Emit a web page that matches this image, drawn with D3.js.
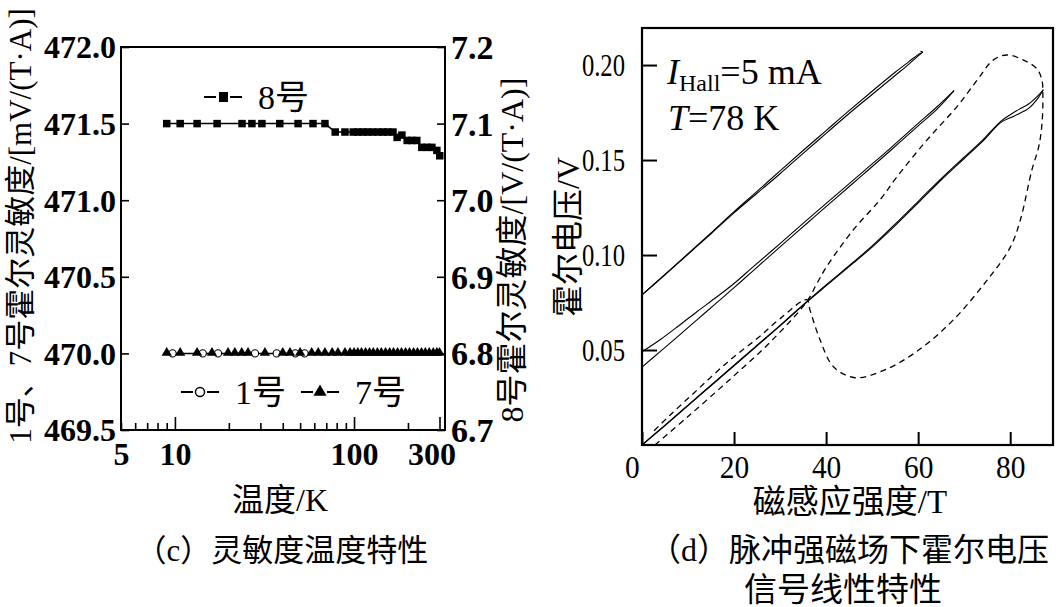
<!DOCTYPE html>
<html>
<head>
<meta charset="utf-8">
<script src="https://cdn.jsdelivr.net/npm/d3@7"></script>
<style>
  body { margin: 0; background: #fff; }
  svg { display: block; }
</style>
</head>
<body>
<script>
// ---- data (c): sensitivity vs temperature ----
let tempMajor = [5, 10, 100, 300];
let tempMinor = [6, 7, 8, 9, 20, 30, 40, 50, 60, 70, 80, 90, 200];
let leftTicks = [469.5, 470.0, 470.5, 471.0, 471.5, 472.0];
let rightTicks = [6.7, 6.8, 6.9, 7.0, 7.1, 7.2];

// 8号 (right axis, V/(T·A))
let s8T = [9.0, 10.7, 13.3, 17.2, 23.7, 26.9, 30.6, 38.5, 48.7, 59, 68.8, 78.5, 89, 99, 105, 112, 119, 127, 136, 145, 154, 165, 174, 185, 198, 210, 224, 239, 255, 272, 290, 301];
let s8V = [7.10, 7.10, 7.10, 7.10, 7.10, 7.10, 7.10, 7.10, 7.10, 7.10, 7.10, 7.089, 7.089, 7.089, 7.089, 7.089, 7.089, 7.089, 7.089, 7.089, 7.089, 7.089, 7.082, 7.085, 7.078, 7.078, 7.078, 7.069, 7.069, 7.069, 7.065, 7.058];

// 7号 (left axis, mV/(T·A))
let s7T = [9.0, 10.7, 13.3, 16.1, 19.8, 21.6, 23.6, 25.6, 31.8, 40, 43.9, 50, 58, 63.1, 68.8, 75.5, 81.3, 89, 95, 100, 105, 110, 116, 122, 128, 135, 142, 150, 158, 166, 175, 184, 194, 204, 215, 226, 238, 250, 263, 277, 290, 300];
let s7V = [470.0, 470.0, 470.0, 470.0, 470.0, 470.0, 470.0, 470.0, 470.0, 470.0, 470.0, 470.0, 470.0, 470.0, 470.0, 470.0, 470.0, 470.0, 470.0, 470.0, 470.0, 470.0, 470.0, 470.0, 470.0, 470.0, 470.0, 470.0, 470.0, 470.0, 470.0, 470.0, 470.0, 470.0, 470.0, 470.0, 470.0, 470.0, 470.0, 470.0, 470.0, 470.0];

// 1号 (left axis)
let s1T = [9.7, 14.3, 17.4, 28, 37, 47, 53];
let s1V = [470.0, 470.0, 470.0, 470.0, 470.0, 470.0, 470.0];

// ---- data (d): Hall voltage vs field, [B (T), U (V)] ----
let xTicksD = [0, 20, 40, 60, 80];
let yTicksD = [0.05, 0.10, 0.15, 0.20];

let curve1a = [[0, 0.079], [5, 0.0898], [10, 0.1007], [15, 0.1117], [20, 0.1228], [25, 0.1335], [30, 0.1443], [35, 0.155], [40, 0.1655], [45, 0.176], [50, 0.1862], [55, 0.1962], [58, 0.2018], [60, 0.2055], [61, 0.2068], [60.5, 0.2072]];
let curve1b = [[0, 0.079], [5, 0.0896], [10, 0.1004], [15, 0.1112], [20, 0.1222], [25, 0.1325], [30, 0.1428], [35, 0.1535], [40, 0.164], [45, 0.1745], [50, 0.1845], [55, 0.1945], [58, 0.2005], [60, 0.2048], [61, 0.2068]];

let curve2a = [[0, 0.049], [4, 0.0555], [8, 0.0628], [12, 0.0703], [16, 0.0775], [20, 0.085], [24, 0.0935], [30, 0.106], [36, 0.1188], [42, 0.1313], [48, 0.1438], [54, 0.1563], [60, 0.1693], [64, 0.1778], [67.8, 0.1865]];
let curve2b = [[0, 0.041], [4, 0.0493], [8, 0.0576], [12, 0.066], [16, 0.0744], [20, 0.0828], [24, 0.0914], [30, 0.1043], [36, 0.117], [42, 0.1297], [48, 0.1423], [54, 0.155], [60, 0.168], [64, 0.1765], [67.8, 0.1865]];

let curve3a = [[0, 0.0], [5, 0.0105], [10, 0.021], [15, 0.0315], [20, 0.042], [25, 0.0525], [30, 0.063], [35.8, 0.0755], [40, 0.0843], [45.9, 0.0962], [50, 0.1048], [55, 0.1163], [60.4, 0.1292], [65, 0.1402], [70, 0.1515], [74, 0.1605], [78, 0.1705], [80, 0.1738], [82, 0.1768], [84, 0.1795], [86, 0.1838], [87.2, 0.187]];
let curve3b = [[0, 0.0], [5, 0.0102], [10, 0.0207], [15, 0.0312], [20, 0.0417], [25, 0.0522], [30, 0.0627], [35.8, 0.0752], [40, 0.0838], [45.9, 0.0957], [50, 0.1042], [55, 0.1155], [60.4, 0.1284], [65, 0.1395], [70, 0.1508], [74, 0.1598], [78, 0.1698], [80, 0.1722], [82, 0.1745], [84, 0.1772], [86, 0.1825], [87.2, 0.187]];

let dashedLoop = [[2.8, 0.0], [10, 0.015], [19.1, 0.0345], [28, 0.0545], [35.8, 0.0755], [38, 0.085], [40.1, 0.0938], [45.9, 0.1132], [51.7, 0.129], [55.4, 0.1412], [61.9, 0.1605], [68.4, 0.178], [72.8, 0.192], [76.3, 0.2026], [79.3, 0.2053], [82.9, 0.2026], [85.8, 0.198], [86.9, 0.192], [87.1, 0.1833], [86.9, 0.169], [86.2, 0.157], [84.7, 0.1447], [82.2, 0.1184], [80, 0.104], [74.9, 0.0865], [67.7, 0.066], [60.4, 0.0505], [53.2, 0.0400], [46.3, 0.0354], [41.6, 0.0412], [38.7, 0.0553], [36.5, 0.071], [35.8, 0.0765], [30, 0.0665], [25, 0.056], [19, 0.0445], [12, 0.029], [6, 0.0155], [2, 0.006]];

const serif = "'Liberation Serif', 'Times New Roman', serif";
const mixed = "'Liberation Serif', 'Noto Sans CJK SC', serif";

let svg = d3.select("body").append("svg")
  .attr("width", 1061)
  .attr("height", 607)
  .style("background", "#fff");

// ================= panel (c) =================
let x1 = d3.scaleLog().domain([5, 322]).range([121, 445]);
let y1 = d3.scaleLinear().domain([469.5, 472.0]).range([430, 47]);
let y1r = d3.scaleLinear().domain([6.7, 7.2]).range([430, 47]);

let pc = svg.append("g");

let axL = pc.append("g").attr("transform", "translate(121,0)")
  .call(d3.axisLeft(y1).tickValues(leftTicks).tickSize(-8).tickPadding(5).tickFormat(d3.format(".1f")));
let axR = pc.append("g").attr("transform", "translate(445,0)")
  .call(d3.axisRight(y1r).tickValues(rightTicks).tickSize(-8).tickPadding(6).tickFormat(d3.format(".1f")));
let axB = pc.append("g").attr("transform", "translate(0,430)")
  .call(d3.axisBottom(x1).tickValues(tempMajor.concat(tempMinor)).tickSize(-7).tickPadding(12)
    .tickFormat(d => tempMajor.includes(d) ? d : ""));
axB.selectAll(".tick line").attr("y2", d => (d == 10 || d == 100 || d == 300) ? -13 : -7);

[axL, axR, axB].forEach(g => {
  g.select(".domain").remove();
  g.selectAll(".tick line").attr("stroke", "#000").attr("stroke-width", 1.6);
  g.selectAll("text").attr("font-family", serif).attr("font-size", 32).attr("font-weight", "bold").attr("fill", "#000");
});
axL.selectAll("text").attr("dy", "0.34em");
axR.selectAll("text").attr("dy", "0.34em").attr("font-size", 34);
axB.selectAll(".tick").filter(d => d == 300).select("text").attr("dx", -8);

pc.append("rect").attr("x", 121).attr("y", 47).attr("width", 324).attr("height", 383)
  .attr("fill", "none").attr("stroke", "#000").attr("stroke-width", 2);

// 8号 squares
let line8 = d3.line().x((d, i) => x1(s8T[i])).y(d => y1r(d));
pc.append("path").attr("d", line8(s8V)).attr("fill", "none").attr("stroke", "#000").attr("stroke-width", 1.5);
pc.selectAll(".sq").data(s8V).join("rect")
  .attr("x", (d, i) => x1(s8T[i]) - 3.75).attr("y", d => y1r(d) - 3.75)
  .attr("width", 7.5).attr("height", 7.5).attr("fill", "#000");

// 7号 triangles and 1号 circles
let line7 = d3.line().x((d, i) => x1(s7T[i])).y(d => y1(d));
pc.append("path").attr("d", line7(s7V)).attr("fill", "none").attr("stroke", "#000").attr("stroke-width", 1.5);
pc.selectAll(".ci").data(s1V).join("circle")
  .attr("cx", (d, i) => x1(s1T[i])).attr("cy", d => y1(d)).attr("r", 3.6)
  .attr("fill", "#fff").attr("stroke", "#000").attr("stroke-width", 1.1);
let tri = d3.symbol().type(d3.symbolTriangle).size(46);
pc.selectAll(".tr").data(s7V).join("path")
  .attr("d", tri)
  .attr("transform", (d, i) => "translate(" + x1(s7T[i]) + "," + (y1(d) - 0.5) + ")")
  .attr("fill", "#000");

// legends
function legendItem(g, x, y, kind, label) {
  g.append("line").attr("x1", x).attr("x2", x + 38).attr("y1", y).attr("y2", y)
    .attr("stroke", "#000").attr("stroke-width", 2);
  g.append("rect").attr("x", x + 12).attr("y", y - 8).attr("width", 14).attr("height", 16).attr("fill", "#fff");
  if (kind == "sq") {
    g.append("rect").attr("x", x + 15).attr("y", y - 5).attr("width", 9).attr("height", 10).attr("fill", "#000");
  } else if (kind == "ci") {
    g.append("circle").attr("cx", x + 19).attr("cy", y).attr("r", 4.5).attr("fill", "#fff").attr("stroke", "#000").attr("stroke-width", 1.4);
  } else {
    g.append("path").attr("d", d3.symbol().type(d3.symbolTriangle).size(75)).attr("transform", "translate(" + (x + 19) + "," + y + ")").attr("fill", "#000");
  }
  g.append("text").attr("x", x + 54).attr("y", y + 12).attr("font-family", mixed).attr("font-size", 34).text(label);
}
legendItem(pc, 204, 97, "sq", "8号");
legendItem(pc, 181, 392, "ci", "1号");
legendItem(pc, 301, 392, "tr", "7号");

pc.append("text").attr("transform", "translate(31,226) rotate(-90)").attr("text-anchor", "middle")
  .attr("font-family", mixed).attr("font-size", 31).text("1号、7号霍尔灵敏度/[mV/(T·A)]");
pc.append("text").attr("transform", "translate(523,250) rotate(-90)").attr("text-anchor", "middle")
  .attr("font-family", mixed).attr("font-size", 32).text("8号霍尔灵敏度/[V/(T·A)]");
pc.append("text").attr("x", 280).attr("y", 511).attr("text-anchor", "middle")
  .attr("font-family", mixed).attr("font-size", 32).text("温度/K");
pc.append("text").attr("x", 282).attr("y", 561).attr("text-anchor", "middle")
  .attr("font-family", mixed).attr("font-size", 31).text("（c）灵敏度温度特性");

// ================= panel (d) =================
let x2 = d3.scaleLinear().domain([0, 89.3]).range([642, 1053]);
let y2 = d3.scaleLinear().domain([0, 0.2195]).range([445, 28]);

let pd = svg.append("g");
let axL2 = pd.append("g").attr("transform", "translate(642,0)")
  .call(d3.axisLeft(y2).tickValues(yTicksD).tickSize(-15).tickPadding(17).tickFormat(d3.format(".2f")));
let axB2 = pd.append("g").attr("transform", "translate(0,445)")
  .call(d3.axisBottom(x2).tickValues(xTicksD).tickSize(-13).tickPadding(10).tickFormat(d3.format("d")));
[axL2, axB2].forEach(g => {
  g.select(".domain").remove();
  g.selectAll(".tick line").attr("stroke", "#000").attr("stroke-width", 2);
  g.selectAll("text").attr("font-family", serif).attr("font-size", 32).attr("fill", "#000");
});
// the reference prints these labels narrow
axL2.selectAll("text").each(function() {
  let t = d3.select(this);
  let xx = +t.attr("x");
  t.attr("x", 0).attr("dy", "0.34em").attr("transform", "translate(" + xx + ",0) scale(0.77,1)");
});
axB2.selectAll("text").attr("transform", "scale(0.92,1)").attr("x", function(d) { return 0; });
axB2.selectAll(".tick").filter(d => d == 0).select("text").attr("dx", -11);

pd.append("rect").attr("x", 642).attr("y", 28).attr("width", 411).attr("height", 417)
  .attr("fill", "none").attr("stroke", "#000").attr("stroke-width", 2.2);

let line2 = d3.line().x(d => x2(d[0])).y(d => y2(d[1])).curve(d3.curveCatmullRom);
[curve1a, curve1b, curve2a, curve2b, curve3a, curve3b].forEach(c => {
  pd.append("path").attr("d", line2(c)).attr("fill", "none").attr("stroke", "#000").attr("stroke-width", 1.1);
});
pd.append("path").attr("d", line2(dashedLoop)).attr("fill", "none").attr("stroke", "#000")
  .attr("stroke-width", 1.3).attr("stroke-dasharray", "6,4.5");

let t1 = pd.append("text").attr("x", 667).attr("y", 84).attr("font-family", serif).attr("font-size", 36);
t1.append("tspan").attr("font-style", "italic").text("I");
t1.append("tspan").attr("font-size", 24).attr("dy", 7).text("Hall");
t1.append("tspan").attr("dy", -7).text("=5 mA");
let t2 = pd.append("text").attr("x", 668).attr("y", 130).attr("font-family", serif).attr("font-size", 36);
t2.append("tspan").attr("font-style", "italic").text("T");
t2.append("tspan").text("=78 K");

pd.append("text").attr("transform", "translate(579,237) rotate(-90)").attr("text-anchor", "middle")
  .attr("font-family", mixed).attr("font-size", 32).text("霍尔电压/V");
pd.append("text").attr("x", 850).attr("y", 513).attr("text-anchor", "middle")
  .attr("font-family", mixed).attr("font-size", 33).text("磁感应强度/T");
pd.append("text").attr("x", 849).attr("y", 561).attr("text-anchor", "middle")
  .attr("font-family", mixed).attr("font-size", 32).text("（d）脉冲强磁场下霍尔电压");
pd.append("text").attr("x", 843).attr("y", 601).attr("text-anchor", "middle")
  .attr("font-family", mixed).attr("font-size", 33).text("信号线性特性");
</script>
</body>
</html>
